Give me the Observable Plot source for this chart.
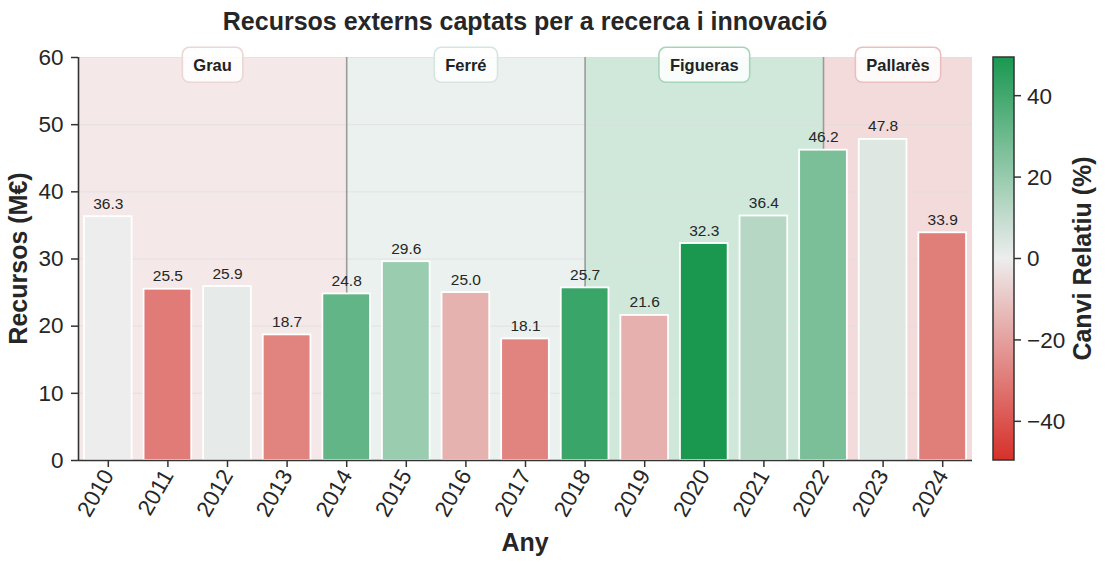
<!DOCTYPE html>
<html><head><meta charset="utf-8">
<script src="https://cdn.jsdelivr.net/npm/d3@7"></script>
<script src="https://cdn.jsdelivr.net/npm/@observablehq/plot@0.6"></script>
<style>
body{margin:0;background:#fff;}
#chart{position:relative;width:1105px;height:566px;}
</style>
</head><body><div id="chart"></div>
<script>
// ---- data ----
const anys = [2010,2011,2012,2013,2014,2015,2016,2017,2018,2019,2020,2021,2022,2023,2024];
const recursos = [36.3,25.5,25.9,18.7,24.8,29.6,25.0,18.1,25.7,21.6,32.3,36.4,46.2,47.8,33.9];
const canvi = [0,-29.8,1.6,-27.8,32.6,19.4,-15.5,-27.6,42.0,-16.0,49.5,12.7,26.9,3.5,-29.1];
const mandats = ["Grau","Ferré","Figueras","Pallarès"];
const mandatInici = [2010,2014,2018,2022];
const mandatFi = [2014,2018,2022,2024];
const mandatFons = ["#f4e8e8","#eaf1ee","#cfe8da","#f3dbdb"];
const mandatVora = ["#ecd6d6","#d6e6de","#a6d4b9","#e9bfbf"];
const yTicks = [0,10,20,30,40,50,60];
const cTicks = [-40,-20,0,20,40];
const colorDomain = [-49.5,0,49.5];
const colorRange = ["#d7302a","#ededed","#1a9850"];

const dades = anys.map((a,i)=>({any:a, recursos:recursos[i], canvi:canvi[i]}));
const periodes = mandats.map((m,i)=>({nom:m, inici:mandatInici[i], fi:mandatFi[i],
  x1: i===0 ? mandatInici[i]-0.5 : mandatInici[i],
  x2: i===mandats.length-1 ? mandatFi[i]+0.5 : mandatFi[i]}));

const FONT = "'Liberation Sans', Arial, Helvetica, sans-serif";
const ML=78, MR=133, MT=57, MB=106, W=1105, H=566;
const TICKFS = 22.5, LABFS = 25;

const chart = Plot.plot({
  width: W, height: H,
  marginLeft: ML, marginRight: MR, marginTop: MT, marginBottom: MB,
  style: {fontFamily: FONT, fontSize: TICKFS+"px", color: "#262626", background: "#fff"},
  x: {type: "linear", domain: [anys[0]-0.5, anys[anys.length-1]+0.5], label: null},
  y: {domain: [0, 60], label: null},
  color: {type: "linear", domain: colorDomain, range: colorRange, interpolate: "rgb"},
  marks: [
    ...periodes.map((p,i)=>Plot.rect([p], {x1:"x1", x2:"x2", y1:0, y2:60, fill: mandatFons[i]})),
    Plot.ruleY(yTicks.slice(1), {stroke:"#dedede", strokeOpacity:0.7, strokeWidth:1}),
    Plot.ruleX(mandatInici.slice(1), {stroke:"#9b9b9b", strokeWidth:1.6}),
    Plot.rectY(dades, {x1: d=>d.any-0.4, x2: d=>d.any+0.4, y: "recursos", fill: "canvi", stroke: "#fff", strokeWidth: 1.8}),
    Plot.text(dades, {x:"any", y:"recursos", text: d=>d.recursos.toFixed(1), dy:-8, lineAnchor:"bottom", fontSize:15.5, fill:"#262626"}),
    Plot.axisY({ticks: yTicks, tickSize: 7, tickPadding: 8, fontSize: TICKFS, stroke:"#333", strokeWidth:1.5}),
    Plot.axisX({ticks: anys, tickFormat: d=>String(d), tickSize: 7, tickPadding: 4, tickRotate: -60, fontSize: TICKFS, stroke:"#333", strokeWidth:1.5}),
    Plot.ruleX([anys[0]-0.5], {stroke:"#333", strokeWidth:1.6}),
    Plot.ruleY([0], {stroke:"#333", strokeWidth:1.6}),
    Plot.text(periodes, {x: d=>(d.x1+d.x2)/2, y: 60, dy: 8, text:"nom", fontWeight:"bold", fontSize:16.5, fill:"#222", lineAnchor:"middle"})
  ]
});
document.getElementById("chart").appendChild(chart);

const svg = d3.select(chart);
svg.attr("overflow","visible");

// rounded boxes behind mandate labels
svg.selectAll("text").filter(function(){ return mandats.includes(this.textContent); }).each(function(){
  const i = mandats.indexOf(this.textContent);
  const bb = this.getBBox();
  const padX = 11, padY = 8.5;
  const node = this;
  d3.select(this.parentNode).insert("rect", () => node)
    .attr("transform", node.getAttribute("transform"))
    .attr("x", bb.x-padX).attr("y", bb.y-padY)
    .attr("width", bb.width+2*padX).attr("height", bb.height+2*padY)
    .attr("rx", 7).attr("ry", 7)
    .attr("fill", "#fff").attr("fill-opacity", 0.85)
    .attr("stroke", mandatVora[i]).attr("stroke-width", 1.6);
});

// title & axis labels
svg.append("text").attr("x", ML + (W-ML-MR)/2).attr("y", 30)
  .attr("text-anchor","middle").attr("font-family",FONT).attr("font-weight","bold")
  .attr("font-size", 25).attr("fill","#262626")
  .text("Recursos externs captats per a recerca i innovació");
svg.append("text").attr("x", ML + (W-ML-MR)/2).attr("y", 551)
  .attr("text-anchor","middle").attr("font-family",FONT).attr("font-weight","bold")
  .attr("font-size", LABFS).attr("fill","#262626").text("Any");
svg.append("text").attr("transform", `translate(27,${MT+(H-MT-MB)/2}) rotate(-90)`)
  .attr("text-anchor","middle").attr("font-family",FONT).attr("font-weight","bold")
  .attr("font-size", LABFS).attr("fill","#262626").text("Recursos (M€)");

// colorbar
const cbX = 993, cbW = 21, cbTop = MT, cbBot = H-MB;
const cy = d3.scaleLinear().domain([colorDomain[0], colorDomain[2]]).range([cbBot, cbTop]);
const defs = svg.append("defs");
const grad = defs.append("linearGradient").attr("id","cbgrad").attr("x1",0).attr("x2",0).attr("y1",1).attr("y2",0);
colorRange.forEach((c,i)=>grad.append("stop").attr("offset", (i/(colorRange.length-1))).attr("stop-color", c));
const cb = svg.append("g");
cb.append("rect").attr("x", cbX).attr("y", cbTop).attr("width", cbW).attr("height", cbBot-cbTop)
  .attr("fill","url(#cbgrad)").attr("stroke","#333").attr("stroke-width",1.5);
cTicks.forEach(t=>{
  cb.append("line").attr("x1", cbX+cbW).attr("x2", cbX+cbW+7).attr("y1", cy(t)).attr("y2", cy(t))
    .attr("stroke","#333").attr("stroke-width",1.5);
  cb.append("text").attr("x", cbX+cbW+13).attr("y", cy(t)).attr("dy","0.35em")
    .attr("text-anchor","start")
    .attr("font-family",FONT).attr("font-size",TICKFS).attr("fill","#262626")
    .text(t<0 ? "\u2212"+Math.abs(t) : String(t));
});
cb.append("text").attr("transform", `translate(1091,${(cbTop+cbBot)/2}) rotate(-90)`)
  .attr("text-anchor","middle").attr("font-family",FONT).attr("font-weight","bold")
  .attr("font-size", LABFS).attr("fill","#262626").text("Canvi Relatiu (%)");
</script>
</body></html>
